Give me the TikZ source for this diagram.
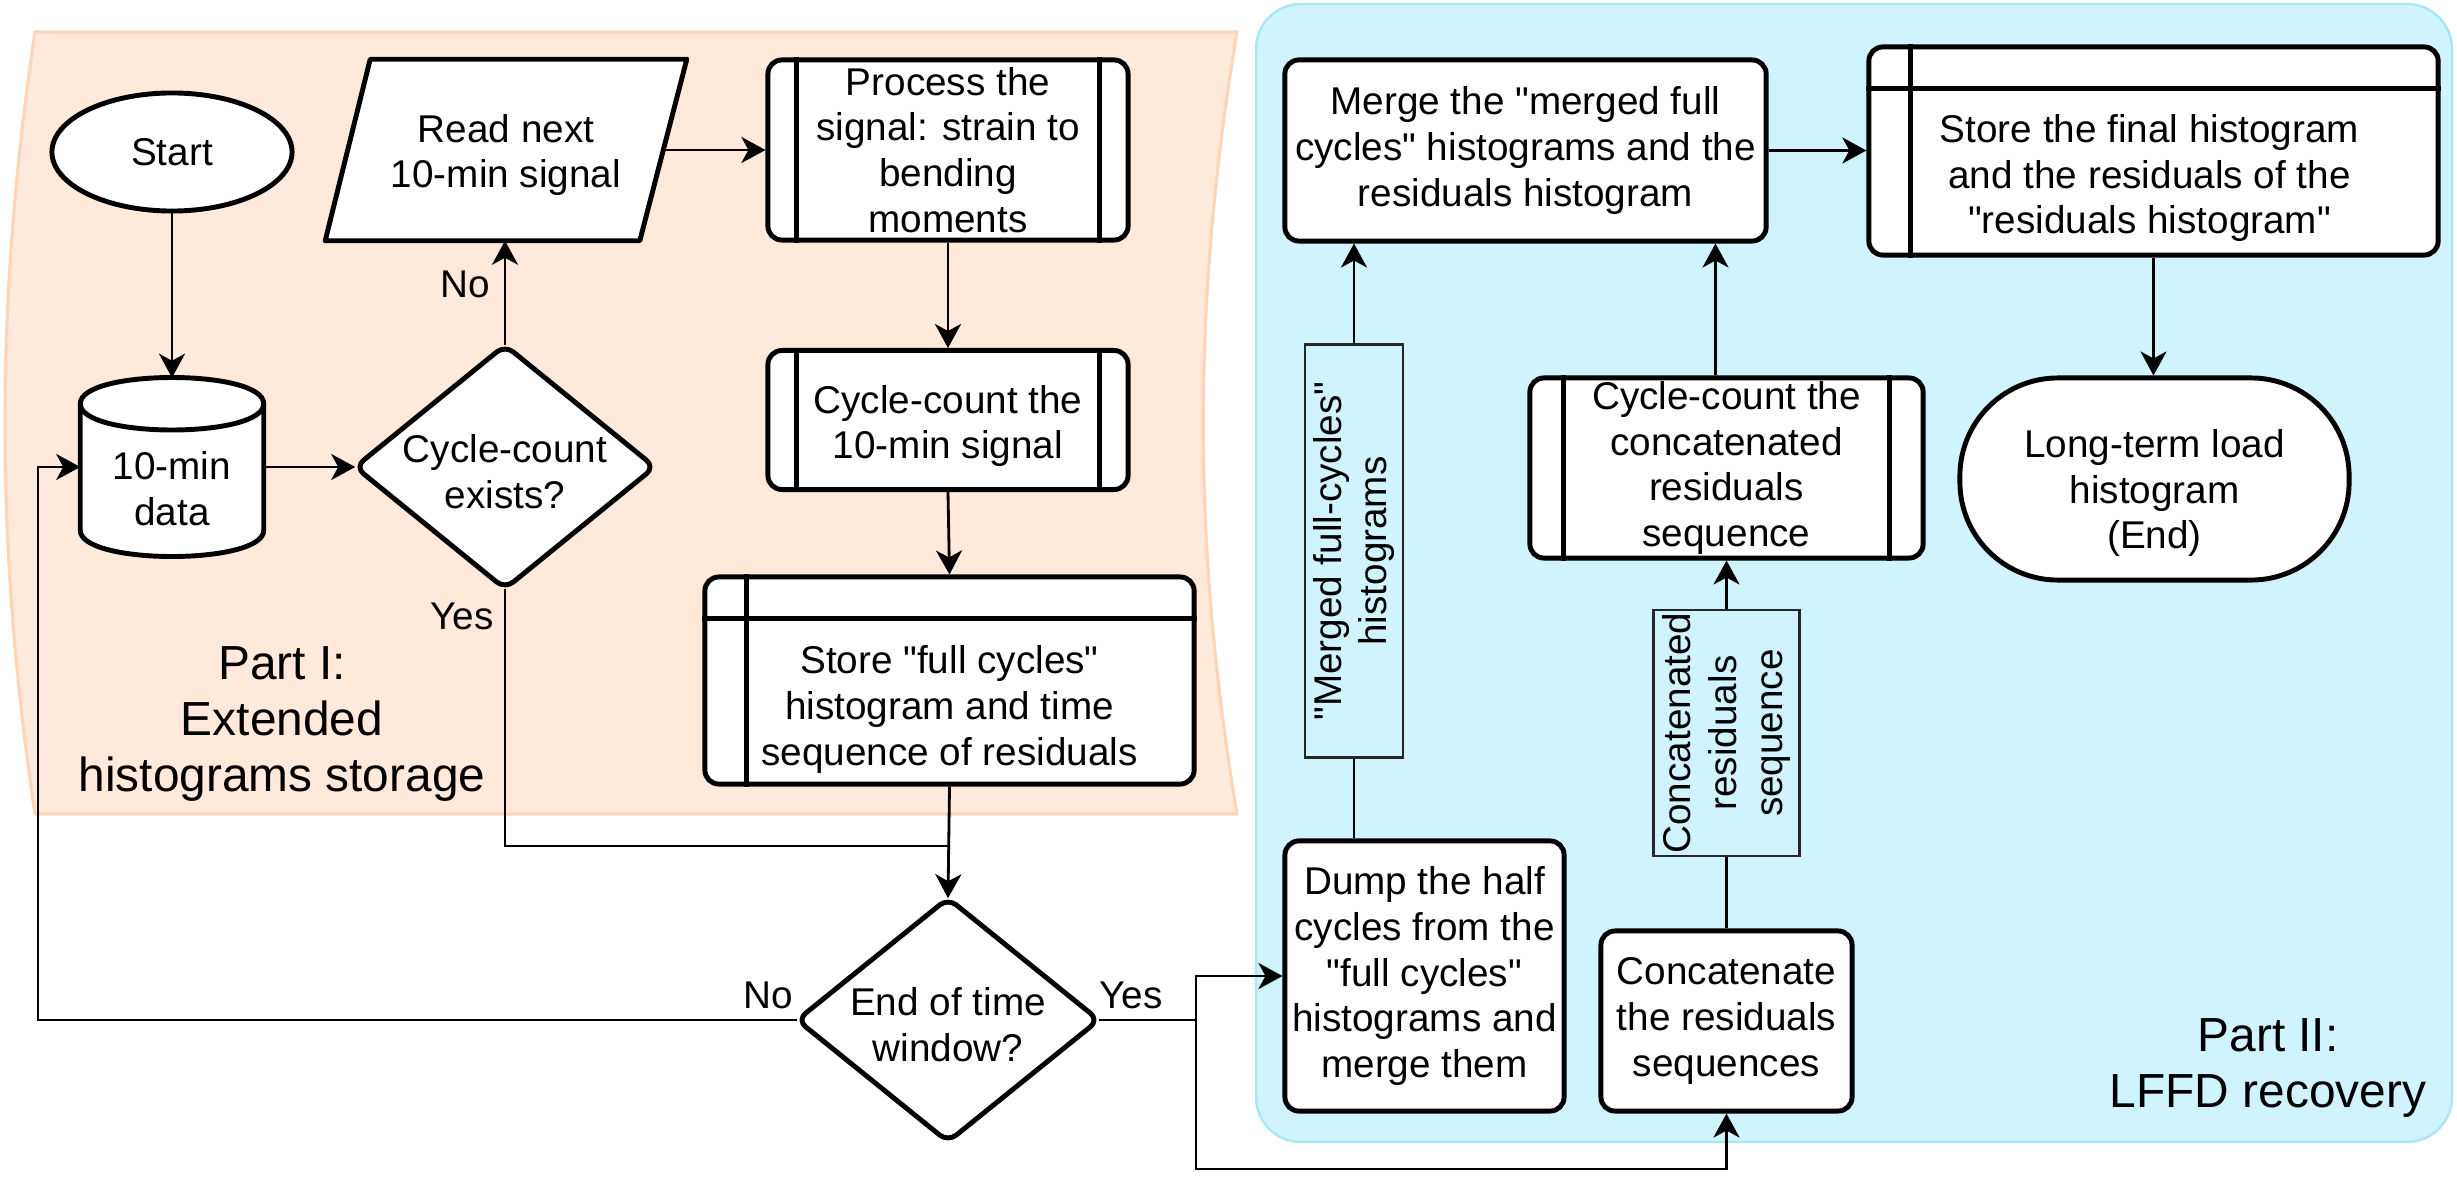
\documentclass[tikz,border=0pt]{standalone}
\usepackage{fontspec}
\setmainfont{Liberation Sans}[Ligatures=TeXOff]
\usetikzlibrary{arrows.meta,calc,shapes.geometric}
\definecolor{peachfill}{HTML}{FFE9DB}
\definecolor{peachline}{HTML}{FDD6BA}
\definecolor{cyanfill}{HTML}{D0F4FD}
\definecolor{cyanline}{HTML}{A8E7F7}
\pgfdeclarelayer{bg}
\pgfdeclarelayer{shp}
\pgfsetlayers{bg,shp,main}
\begin{document}
\begin{tikzpicture}[x=0.01cm,y=-0.01cm,
  txt/.style={font=\fontsize{11}{13}\selectfont, align=center, inner sep=0pt},
  box/.style={txt, draw, line width=1.4pt, fill=white, rounded corners=0.14cm},
  ghost/.style={txt, draw=none},
  shapeline/.style={draw, line width=1.4pt, fill=white, line join=round},
  conn/.style={line width=0.8pt},
  arr/.style={conn, -{Stealth[length=0.24cm,width=0.26cm,inset=0.07cm]}},
  lbl/.style={txt, draw=black!85, line width=0.8pt, fill=cyanfill, rotate=90},
  part/.style={font=\fontsize{13.6}{16}\selectfont, align=center, inner sep=0pt},
  bar/.style={line width=1.4pt},
]
\useasboundingbox (0,0) rectangle (2457,1197);

% backgrounds
\begin{pgfonlayer}{bg}
\fill[white] (0,0) rectangle (2457,1197);
\draw[peachline, fill=peachfill, line width=0.9pt]
  (35,32) -- (1237,32) .. controls (1192,300) and (1192,546) .. (1237,814)
  -- (35,814) .. controls (-5,546) and (-5,300) .. (35,32) -- cycle;
\draw[cyanline, fill=cyanfill, line width=0.7pt, rounded corners=0.45cm]
  (1256,4) rectangle (2452,1142);
\end{pgfonlayer}

% ---------- Part I nodes
\node[txt, ellipse, draw, line width=1.4pt, fill=white,
      minimum width=2.40cm, minimum height=1.18cm] (start) at (172,152) {Start};
\node[ghost, minimum width=1.82cm, minimum height=1.77cm] (data) at (172,467) {};
\node[txt] (datatxt) at ($(data.center)+(0,22)$) {10-min\\data};
\node[ghost, minimum width=2.98cm, minimum height=2.42cm] (d1) at (505,467) {};
\node[txt] (d1txt) at ($(d1.center)+(0,5)$) {Cycle-count\\exists?};
\node[ghost, minimum width=3.60cm, minimum height=1.80cm] (read) at (506,150) {};
\node[txt] (readtxt) at ($(read.center)+(0,5)$) {Read next\\10-min signal};
\node[box, minimum width=3.60cm, minimum height=1.80cm] (proc) at (948,150)
  {Process the\\signal: strain to\\bending\\moments};
\node[box, minimum width=3.60cm, minimum height=1.39cm] (cc1) at (948,420) {};
\node[txt] (cc1txt) at ($(cc1.center)+(0,6)$) {Cycle-count the\\10-min signal};
\node[box, minimum width=4.89cm, minimum height=2.07cm] (store1) at (949.5,680.5) {};
\node[txt] (store1txt) at ($(store1.center)+(0,29)$)
  {Store "full cycles"\\histogram and time\\sequence of residuals};
\node[ghost, minimum width=3.00cm, minimum height=2.42cm] (d2) at (948,1020) {};
\node[txt] (d2txt) at ($(d2.center)+(0,5)$) {End of time\\window?};
\node[part] (part1) at (282,724) {Part I:\\Extended\\histograms storage};

% ---------- Part II nodes
\node[box, minimum width=2.79cm, minimum height=2.70cm] (dump) at (1424.5,976)
  {Dump the half\\cycles from the\\"full cycles"\\histograms and\\merge them};
\node[box, minimum width=2.51cm, minimum height=1.80cm] (concat) at (1726.5,1021)
  {Concatenate\\the residuals\\sequences};
\node[lbl, minimum width=2.46cm, minimum height=1.46cm] (lab2) at (1726.5,733)
  {Concatenated\\residuals\\sequence};
\node[box, minimum width=3.93cm, minimum height=1.80cm] (cc2) at (1726.5,468)
  {Cycle-count the\\concatenated\\residuals\\sequence};
\node[lbl, minimum width=4.12cm, minimum height=0.98cm] (lab1) at (1354,551)
  {"Merged full-cycles"\\histograms};
\node[box, minimum width=4.81cm, minimum height=1.81cm] (merge) at (1525.5,150.5)
  {Merge the "merged full\\cycles" histograms and the\\residuals histogram};
\node[box, minimum width=5.69cm, minimum height=2.08cm] (store2) at (2153.5,151) {};
\node[txt] (store2txt) at ($(store2.center)+(-4,27)$)
  {Store the final histogram\\and the residuals of the\\"residuals histogram"};
\node[txt, draw, line width=1.4pt, fill=white, rounded corners=0.98cm,
      minimum width=3.89cm, minimum height=2.02cm] (endn) at (2154.5,479) {};
\node[txt] (endtxt) at ($(endn.center)+(0,14)$) {Long-term load\\histogram\\(End)};
\node[part] (part2) at (2268,1068) {Part II:\\LFFD recovery};

% ---------- custom shapes (under the texts)
\begin{pgfonlayer}{shp}
\draw[shapeline] ($(data.north west)+(0,26)$) -- ($(data.south west)+(0,-26)$)
  .. controls +(0,35) and +(0,35) .. ($(data.south east)+(0,-26)$)
  -- ($(data.north east)+(0,26)$)
  .. controls +(0,-35) and +(0,-35) .. ($(data.north west)+(0,26)$) -- cycle;
\draw[line width=1.4pt] ($(data.north west)+(0,26)$)
  .. controls +(0,35) and +(0,35) .. ($(data.north east)+(0,26)$);
\draw[shapeline, rounded corners=3pt] (d1.north) -- (d1.east) -- (d1.south) -- (d1.west) -- cycle;
\draw[shapeline, rounded corners=3pt] (d2.north) -- (d2.east) -- (d2.south) -- (d2.west) -- cycle;
\draw[shapeline] ($(read.north west)+(45,0)$) -- (read.north east)
  -- ($(read.south east)+(-47,0)$) -- (read.south west) -- cycle;
\end{pgfonlayer}

% subprocess bars and storage lines
\draw[bar] ($(proc.north west)+(31,0)$) -- ($(proc.south west)+(31,0)$);
\draw[bar] ($(proc.north east)+(-31,0)$) -- ($(proc.south east)+(-31,0)$);
\draw[bar] ($(cc1.north west)+(31,0)$) -- ($(cc1.south west)+(31,0)$);
\draw[bar] ($(cc1.north east)+(-31,0)$) -- ($(cc1.south east)+(-31,0)$);
\draw[bar] ($(cc2.north west)+(36,0)$) -- ($(cc2.south west)+(36,0)$);
\draw[bar] ($(cc2.north east)+(-36,0)$) -- ($(cc2.south east)+(-36,0)$);
\draw[bar] ($(store1.north west)+(0,44)$) -- ($(store1.north east)+(0,44)$);
\draw[bar] ($(store1.north west)+(44,0)$) -- ($(store1.south west)+(44,0)$);
\draw[bar] ($(store2.north west)+(0,44)$) -- ($(store2.north east)+(0,44)$);
\draw[bar] ($(store2.north west)+(44,0)$) -- ($(store2.south west)+(44,0)$);

% ---------- connectors
\coordinate (j1) at (948,846);
\coordinate (c1) at (38,1020);
\coordinate (c2) at (1196,1020);
\coordinate (c3) at (1196,1169);

\draw[arr] (start.south) -- (data.north);
\draw[arr] (data.east) -- (d1.west);
\draw[arr] (d1.north) -- (d1.north |- read.south);
\node[txt] (no1) at (465,284) {No};
\draw[arr] ($(read.east)+(-22,0)$) -- (proc.west);
\draw[arr] (proc.south) -- (cc1.north);
\draw[arr] (cc1.south) -- (store1.north);
\draw[arr] (store1.south) -- (d2.north);
\draw[conn] (d1.south) |- (j1);
\node[txt] (yes1) at (462,616) {Yes};
\draw[arr] (d2.west) -- (c1) |- (data.west);
\node[txt] (no2) at (768,995) {No};
\draw[arr] (d2.east) -- (c2) |- (dump.west);
\node[txt] (yes2) at (1131,995) {Yes};
\draw[arr] (c2) -- (c3) -| (concat.south);
\draw[conn] (lab1.center |- dump.north) -- (lab1);
\draw[arr] (lab1) -- (lab1.center |- merge.south);
\draw[conn] (concat.north) -- (lab2);
\draw[arr] (lab2) -- (cc2.south);
\draw[arr] ($(cc2.north)+(-11,0)$) -- ($(cc2.north |- merge.south)+(-11,0)$);
\draw[arr] (merge.east) -- (merge.east -| store2.west);
\draw[arr] (store2.south) -- (store2.south |- endn.north);
\end{tikzpicture}
\end{document}
